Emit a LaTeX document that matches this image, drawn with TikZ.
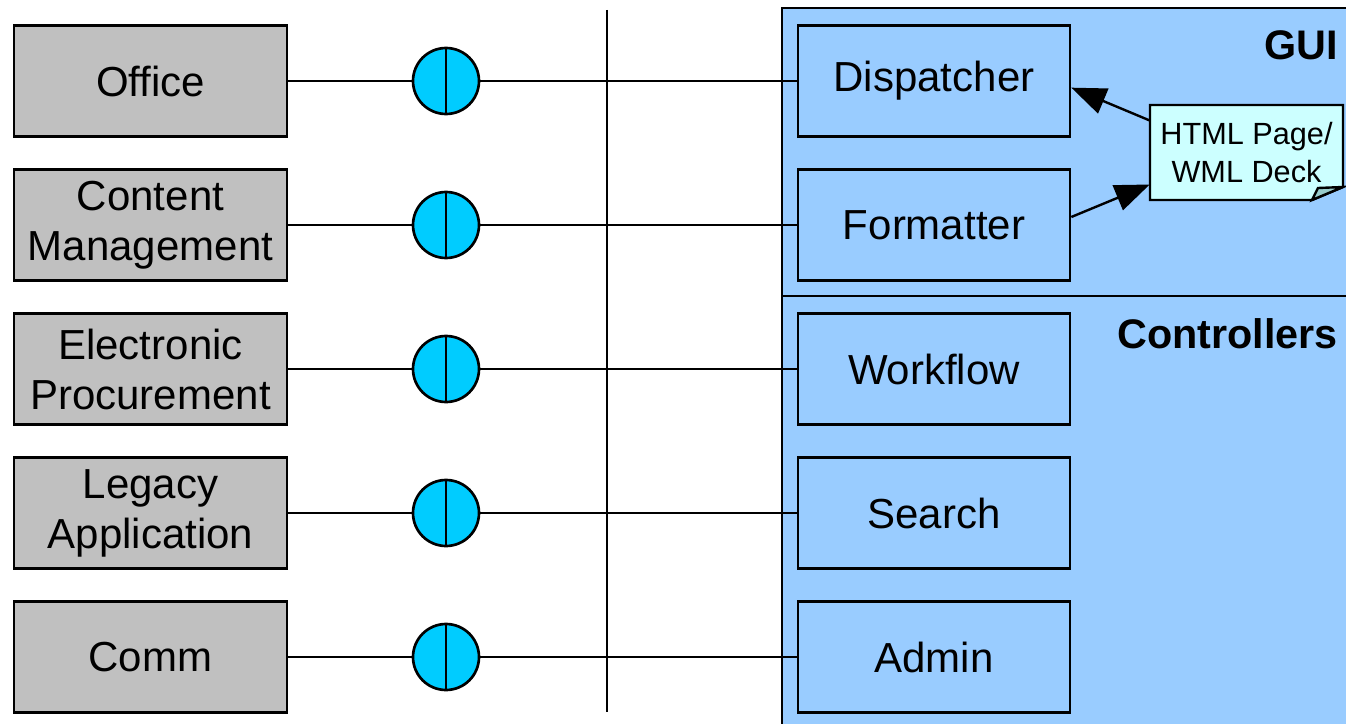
\documentclass[tikz,border=0pt]{standalone}
\usepackage{fontspec}
\setmainfont{Liberation Sans}
\usetikzlibrary{arrows.meta}
\definecolor{appgray}{HTML}{C0C0C0}
\definecolor{tierblue}{HTML}{99CCFF}
\definecolor{portcyan}{HTML}{00CCFF}
\definecolor{notecyan}{HTML}{CCFFFF}
\definecolor{notefold}{HTML}{99CCCC}
\tikzset{
  appbox/.style={draw, line width=2pt, fill=appgray, minimum width=204.75pt, minimum height=83.25pt, inner sep=0pt, align=center, font=\fontsize{31.5}{37.5}\selectfont},
  ctlbox/.style={appbox, fill=tierblue, minimum width=204pt},
  port/.style={circle, draw, line width=2pt, fill=portcyan, minimum size=49.5pt, inner sep=0pt, path picture={\draw[line width=2pt] (path picture bounding box.north) -- (path picture bounding box.south);}},
  wire/.style={line width=1.8pt},
  tierlabel/.style={anchor=base east, inner sep=0pt, font=\bfseries\fontsize{31}{37.5}\selectfont},
  notetext/.style={minimum width=144.75pt, minimum height=71.25pt, inner sep=0pt, align=center, font=\fontsize{23}{28.5}\selectfont}
}
\begin{document}
\begin{tikzpicture}[x=0.75pt,y=-0.75pt]
\useasboundingbox (0,0) rectangle (1346,724);
\fill[tierblue] (782,8) rectangle (1360,740);
\draw[wire] (782,740) -- (782,8) -- (1360,8);
\draw[wire] (782,296) -- (1360,296);
\draw[wire] (607,10) -- (607,712);

\node[appbox] (office) at (150.5,81) {Office};
\node[appbox] (cms) at (150.5,225) {Content\\Management};
\node[appbox] (eproc) at (150.5,369) {Electronic\\Procurement};
\node[appbox] (legacy) at (150.5,513) {Legacy\\Application};
\node[appbox] (comm) at (150.5,657) {Comm};

\node[port] (port1) at (446,81) {};
\node[port] (port2) at (446,225) {};
\node[port] (port3) at (446,369) {};
\node[port] (port4) at (446,513) {};
\node[port] (port5) at (446,657) {};

\node[ctlbox] (disp) at (934,81) {Dispatcher};
\node[ctlbox] (fmt) at (934,225) {Formatter};
\node[ctlbox] (wflow) at (934,369) {Workflow};
\node[ctlbox] (search) at (934,513) {Search};
\node[ctlbox] (admin) at (934,657) {Admin};

\draw[wire] (office) -- (port1) -- (disp);
\draw[wire] (cms) -- (port2) -- (fmt);
\draw[wire] (eproc) -- (port3) -- (wflow);
\draw[wire] (legacy) -- (port4) -- (search);
\draw[wire] (comm) -- (port5) -- (admin);

\node[tierlabel] (gui) at (1338,60) {GUI};
\node[tierlabel] (ctl) at (1338,348) {Controllers};

\draw[wire, fill=notecyan] (1150,105) -- (1343,105) -- (1343,187) -- (1312,200) -- (1150,200) -- cycle;
\draw[wire, fill=notefold] (1343,187) -- (1318,188) -- (1312,200) -- cycle;
\node[notetext] (html) at (1246.5,152.5) {HTML Page/\\WML Deck};

\draw[wire, -{Triangle[length=26pt,width=20pt]}] ([yshift=24pt]html.west) -- ([yshift=-5pt]disp.east);
\draw[wire, -{Triangle[length=26pt,width=20pt]}] ([yshift=6pt]fmt.east) -- ([yshift=-24pt]html.west);
\end{tikzpicture}
\end{document}
